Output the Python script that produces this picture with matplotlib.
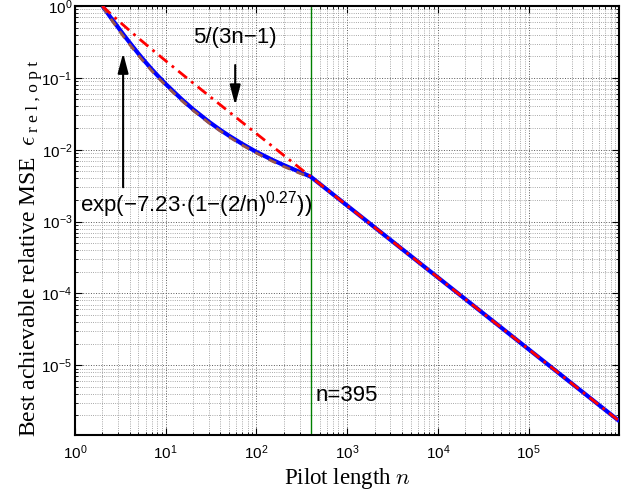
import matplotlib
matplotlib.use("Agg")
import matplotlib.pyplot as plt
from matplotlib.ticker import FixedLocator, LogLocator, NullFormatter, LogFormatterSciNotation

plt.rcParams['font.family'] = ['Liberation Sans', 'DejaVu Sans']

# ---- data ----
n_blue = [2, 2.2, 2.5, 3, 3.5, 4, 5, 6, 7, 8, 10, 15, 20, 30, 40, 50, 70, 100,
          150, 200, 300, 395, 500, 1000, 1e4, 1e5, 1e6]
eps_blue = [1.0, 0.85, 0.68, 0.50, 0.385, 0.31, 0.217, 0.165, 0.132, 0.110, 0.082,
            0.0503, 0.0366, 0.0244, 0.0188, 0.0156, 0.0120, 0.0093, 0.0072, 0.0061,
            0.0049, 0.00422, 0.003336, 0.001667, 1.6668e-4, 1.6667e-5, 1.6667e-6]

n_exp = [2, 2.2, 2.5, 3, 3.5, 4, 5, 6, 7, 8, 10, 15, 20, 30, 40, 50, 70, 100,
         150, 200, 300, 395]
eps_exp = [1.0, 0.8322, 0.655, 0.4725, 0.3628, 0.2911, 0.2050, 0.1563, 0.1256,
           0.10463, 0.0783, 0.04815, 0.03518, 0.02351, 0.01813, 0.01502, 0.01154,
           0.00895, 0.00690, 0.005833, 0.004696, 0.00411]

n_red = [2, 2.5, 3, 4, 5, 7, 10, 20, 50, 100, 395, 1000, 1e4, 1e5, 1e6]
eps_red = [1.0, 0.7692, 0.625, 0.4545, 0.3571, 0.25, 0.1724, 0.08475, 0.03356,
           0.01672, 0.004223, 0.001667, 1.6668e-4, 1.66668e-5, 1.6667e-6]

n_opt = 395
x_ticks = [1e0, 1e1, 1e2, 1e3, 1e4, 1e5]
y_ticks = [1e-5, 1e-4, 1e-3, 1e-2, 1e-1, 1e0]

W, H = 640, 495
fig = plt.figure(figsize=(6.4, 4.95), dpi=100)
ax = fig.add_axes([75/W, 1-435/H, (619-75)/W, (435-6)/H])
ax.set_xscale('log')
ax.set_yscale('log')
ax.set_xlim(1, 9.9e5)
ax.set_ylim(1.07e-6, 1)

ax.plot(n_blue, eps_blue, color='#0000ff', lw=3.0, solid_capstyle='butt', zorder=3)
ax.plot(n_exp, eps_exp, color='#9a5548', lw=2.0, ls=(0, (3, 2.5)), zorder=4)
ax.plot(n_red, eps_red, color='#ff0000', lw=2.0, ls=(0, (4, 2, 1, 2)), zorder=5)
ax.axvline(n_opt, color='#008000', lw=1.0, zorder=2)

ax.xaxis.set_major_locator(FixedLocator(x_ticks))
ax.yaxis.set_major_locator(FixedLocator(y_ticks))
ax.xaxis.set_major_formatter(LogFormatterSciNotation())
ax.yaxis.set_major_formatter(LogFormatterSciNotation())
ax.xaxis.set_minor_locator(LogLocator(base=10, subs=range(2, 10), numticks=20))
ax.yaxis.set_minor_locator(LogLocator(base=10, subs=range(2, 10), numticks=20))
ax.xaxis.set_minor_formatter(NullFormatter())
ax.yaxis.set_minor_formatter(NullFormatter())

ax.grid(True, which='major', ls=':', lw=0.7, color='0.35')
ax.grid(True, which='minor', ls=':', lw=0.6, color='0.55')
ax.set_axisbelow(True)
ax.tick_params(which='both', direction='in', top=True, right=True, labelsize=11)
ax.tick_params(which='major', length=5, width=0.8)
ax.tick_params(which='minor', length=2.5, width=0.6)
ax.tick_params(axis='x', pad=6)
ax.tick_params(axis='y', pad=2)
for s in ax.spines.values():
    s.set_linewidth(1.5)

ax.set_xlabel('Pilot length $n$', family='Liberation Serif', fontsize=16.5,
              math_fontfamily='cm', labelpad=3)

# y label: main part + wide subscript, as in the reference
ylab = fig.text(35/W, 1-437/H, r'Best achievable relative MSE  $\epsilon$',
                family='Liberation Serif', fontsize=17, math_fontfamily='cm',
                rotation=90, rotation_mode='anchor', ha='left', va='baseline')
fig.canvas.draw()
bb = ylab.get_window_extent()
fig.text(38.5/W, (bb.y1 + 2)/H, 'r e l , o p t', family='Liberation Serif', fontsize=12.5,
         rotation=90, rotation_mode='anchor', ha='left', va='baseline')

arrow_kw = dict(arrowstyle='-|>,head_width=0.2,head_length=0.75',
                color='black', lw=1.5, mutation_scale=16)
ax.annotate('5/(3n\u22121)', xy=(58.3, 0.0418), xytext=(58.3, 0.36),
            fontsize=16, ha='center', va='center',
            arrowprops=dict(shrinkA=10, shrinkB=0, **arrow_kw))
ax.annotate('', xy=(3.39, 0.221), xytext=(3.39, 3.0e-3),
            arrowprops=dict(shrinkA=0, shrinkB=0, **arrow_kw))
ax.text(1.13, 1.75e-3, 'exp(\u22127.23\u00b7(1\u2212(2/n)$^{\\mathdefault{0.27}}$))',
        fontsize=16, ha='left', va='center')
ax.text(445, 3.8e-6, 'n=395', fontsize=16, ha='left', va='center')

fig.savefig('out.png', dpi=100)
